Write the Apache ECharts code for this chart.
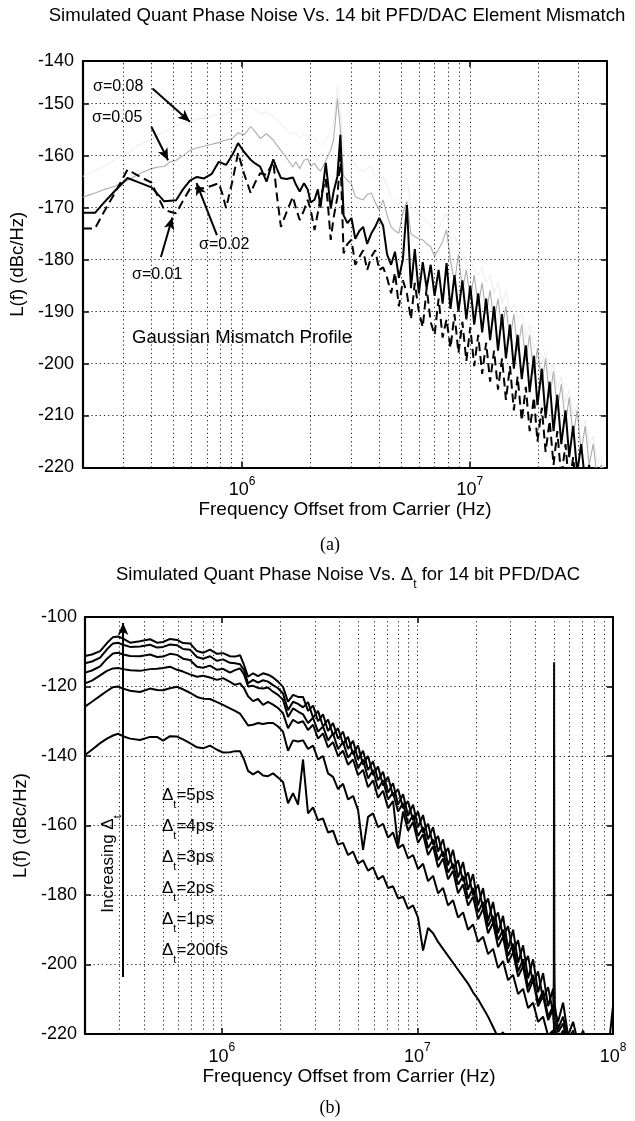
<!DOCTYPE html>
<html>
<head>
<meta charset="utf-8">
<script src="https://cdn.jsdelivr.net/npm/echarts@6/dist/echarts.min.js"></script>
<style>
html,body{margin:0;padding:0;background:#fff;}
#c{width:635px;height:1121px;}
</style>
</head>
<body>
<div id="c"></div>
<script>
// ---------------- DATA: chart (a) ----------------
const freqA = [
2.00e5,2.12e5,2.26e5,2.49e5,2.76e5,3.14e5,3.54e5,4.00e5,4.28e5,4.55e5,
4.83e5,5.13e5,5.50e5,5.90e5,6.33e5,6.80e5,7.36e5,7.90e5,8.21e5,8.50e5,
9.08e5,9.60e5,1.02e6,1.09e6,1.14e6,1.20e6,1.28e6,1.37e6,1.42e6,1.48e6,
1.57e6,1.67e6,1.72e6,1.79e6,1.87e6,1.94e6,2.00e6,2.08e6,2.15e6,2.21e6,
2.33e6,2.45e6,2.52e6,2.62e6,2.70e6,2.79e6,2.90e6,3.02e6,3.14e6,3.27e6,
3.40e6,3.54e6,3.69e6,3.84e6,4.00e6,4.16e6,4.33e6,4.51e6,4.69e6,4.88e6,
5.08e6,5.29e6,5.51e6,5.73e6,5.97e6,6.21e6,6.46e6,6.73e6,7.00e6,7.29e6,
7.59e6,7.90e6,8.22e6,8.56e6,8.91e6,9.27e6,9.65e6,1.004e7,1.045e7,1.088e7,
1.132e7,1.179e7,1.227e7,1.277e7,1.329e7,1.384e7,1.44e7,1.50e7,1.56e7,1.62e7,
1.69e7,1.76e7,1.83e7,1.91e7,1.98e7,2.07e7,2.15e7,2.24e7,2.33e7,2.42e7,
2.52e7,2.63e7,2.73e7,2.84e7,2.96e7,3.08e7,3.21e7,3.34e7,3.48e7,3.62e7,
3.77e7,3.92e7,4.00e7];

const sigma001 = [
-174,-174,-174,-170.6,-167.2,-162.7,-164.0,-165.2,-168.0,-170.4,
-170.8,-171.1,-168.7,-166.4,-166.3,-166.3,-165.8,-165.3,-167.5,-170.1,
-164.8,-159.5,-163.5,-167.2,-165.2,-163.4,-163.7,-161.1,-167.5,-173.7,
-170.8,-167.9,-170.0,-172.4,-170.5,-168.5,-170.4,-174.3,-171.0,-168.0,
-164.5,-176.2,-172.0,-168.0,-160.0,-178.8,-177.0,-176.2,-181.0,-179.5,
-178.2,-182.0,-179.5,-178.2,-182.0,-181.5,-183.5,-186.5,-182.5,-189.0,
-184.0,-186.5,-191.5,-184.5,-190.0,-193.0,-185.5,-192.0,-194.5,-187.5,
-195.0,-191.5,-197.0,-190.5,-198.0,-192.0,-199.5,-193.0,-200.5,-194.5,
-202.0,-196.0,-203.5,-197.5,-205.0,-199.0,-207.0,-200.5,-209.0,-202.5,
-211.0,-204.5,-213.0,-206.5,-215.0,-208.5,-217.0,-211.0,-219.5,-213.0,
-222.0,-215.5,-224.0,-218.0,-226.0,-221.0,-227,-224,-228,-226,
-229,-228,-229];

const sigma002 = [
-171,-171,-171,-168.9,-166.8,-164.3,-165.2,-166.1,-167.5,-168.8,
-168.7,-168.6,-166.5,-164.8,-164.1,-164.4,-163.5,-161.2,-161.5,-161.8,
-159.8,-157.6,-159.3,-160.8,-161.5,-162.1,-165.0,-160.7,-162.5,-164.3,
-164.5,-164.2,-165.5,-166.9,-165.3,-166.5,-169.0,-168.5,-166.5,-170.0,
-161.4,-170.2,-167.0,-164.0,-156.0,-171.5,-173.0,-172.0,-176.0,-174.5,
-173.7,-177.0,-175.0,-173.7,-172.0,-173.5,-179.0,-181.0,-178.5,-183.5,
-180.0,-169.5,-185.5,-178.0,-186.5,-180.5,-185.5,-181.0,-187.0,-182.0,
-188.5,-180.7,-189.5,-183.0,-190.0,-184.0,-191.5,-185.0,-192.5,-186.5,
-194.0,-187.5,-195.5,-189.0,-197.5,-190.5,-199.0,-192.5,-201.0,-194.5,
-203.0,-196.5,-205.5,-198.5,-208.0,-201.0,-210.5,-203.5,-213.0,-206.0,
-215.5,-209.0,-218.0,-212.0,-221.0,-215.5,-223.0,-219.5,-225.0,-223.0,
-226.0,-225.0,-226.0];

const sigma005 = [
-168.0,-167.6,-167.2,-166.5,-165.9,-164.8,-163.5,-162.5,-162.2,-162.1,
-161.2,-160.9,-160.0,-159.0,-158.5,-158.2,-157.8,-157.5,-157.2,-157.0,
-156.7,-155.6,-156.0,-154.4,-155.4,-156.7,-155.8,-157.0,-158.0,-159.0,
-160.5,-162.2,-161.2,-162.5,-160.9,-160.6,-162.0,-161.5,-162.5,-163.0,
-161.0,-158.9,-157.0,-149.0,-155.0,-164.0,-164.7,-165.5,-167.9,-168.3,
-168.5,-167.5,-167.2,-169.0,-170.4,-168.5,-171.5,-173.7,-174.5,-174.9,
-171.0,-168.8,-175.0,-175.6,-176.0,-176.2,-177.0,-177.5,-179.4,-178.0,
-176.5,-174.3,-180.1,-184.5,-179.0,-186.0,-182.0,-187.5,-183.0,-189.0,
-184.5,-190.5,-185.9,-192.0,-187.5,-193.5,-189.0,-195.5,-190.5,-197.5,
-192.5,-199.5,-194.5,-202.0,-197.0,-204.0,-199.0,-206.5,-201.5,-209.0,
-204.0,-211.5,-206.5,-214.0,-209.0,-217.0,-212.0,-219.5,-215.5,-222.0,
-219.5,-224.0,-223.0];

const sigma008 = [
-164,-163.5,-163,-162,-160.8,-159.5,-158,-156.8,-156,-155.5,
-154.8,-154.3,-153.8,-153.4,-153,-152.8,-152.5,-152,-152.3,-151.8,
-151.5,-151,-151.5,-150.5,-151,-152,-151.5,-152.5,-153,-154,
-155,-156,-155.5,-156.5,-155.8,-156,-157,-156.5,-157.5,-158,
-157,-155.5,-154,-146.5,-151,-159,-160,-160.5,-162,-162.5,
-163,-162.5,-162,-164,-165,-164,-166,-168,-169,-169.5,
-166.5,-164.5,-170,-170.5,-171.5,-172,-172.5,-173.5,-175,-174,
-172.5,-171,-176,-175.5,-177,-178.5,-180.5,-179.5,-182,-183,
-181.5,-184.5,-183,-186.5,-184.5,-188.5,-186,-190,-188.5,-191.5,
-190.5,-195,-192.5,-197,-195.5,-200,-197.5,-202.5,-200,-205,
-202.5,-207.5,-205,-210,-208,-212.5,-211,-215.5,-214,-219,
-218,-222,-222];

// y tick labels of (a); the printed frame top sits a little below the -140 tick line
const yTicksA = [-220,-210,-200,-190,-180,-170,-160,-150,-140];
const yTopA = -141.8;
const xGridA = [3e5,4e5,5e5,6e5,7e5,8e5,9e5,1e6,2e6,3e6,4e6,5e6,6e6,7e6,8e6,9e6,1e7,2e7,3e7];
const xRangeA = [2e5, 4e7];

// ---------------- DATA: chart (b) ----------------
const freqB = [
2.00e5,2.17e5,2.39e5,2.59e5,2.78e5,2.95e5,3.13e5,3.40e5,3.82e5,4.30e5,
4.67e5,5.01e5,5.44e5,5.91e5,6.34e5,6.88e5,7.47e5,8.02e5,8.71e5,9.46e5,
1.015e6,1.102e6,1.169e6,1.240e6,1.300e6,1.363e6,1.445e6,1.533e6,1.626e6,1.724e6,
1.829e6,1.940e6,2.057e6,2.182e6,2.314e6,2.455e6,
2.603e6,2.761e6,2.929e6,3.106e6,3.294e6,3.494e6,3.706e6,3.931e6,4.169e6,4.422e6,
4.690e6,4.974e6,5.276e6,5.596e6,5.935e6,6.295e6,6.677e6,7.082e6,7.511e6,7.967e6,
8.450e6,8.962e6,9.506e6,1.008e7,1.069e7,1.134e7,1.203e7,1.276e7,1.353e7,1.435e7,
1.522e7,1.614e7,1.712e7,1.816e7,1.926e7,2.043e7,2.167e7,2.298e7,2.438e7,2.585e7,
2.742e7,2.908e7,3.085e7,3.272e7,3.470e7,3.680e7,3.904e7,4.140e7,4.391e7,4.658e7,
4.940e7,
4.98e7,5.00e7,5.02e7,
5.239e7,5.557e7,5.894e7,6.251e7,6.630e7,7.032e7,7.459e7,7.911e7,8.391e7,8.900e7,9.440e7,1.0e8];

const dt5ps = [
-111.2,-110.8,-109.8,-107.5,-105.8,-105.6,-106.2,-107.4,-107.0,-106.4,
-107.4,-107.2,-106.3,-106.6,-107.5,-107.6,-109.8,-110.3,-109.4,-110.6,
-110.4,-111.3,-111.4,-111.0,-113.8,-117.2,-116.2,-117.0,-116.2,-116.6,
-117.4,-118.6,-120.1,-124.4,-122.4,-123.0,
-123.0,-127.0,-125.5,-130.0,-128.0,-132.8,-130.5,-135.0,-133.0,-138.0,
-135.6,-141.0,-138.5,-144.0,-141.5,-147.0,-144.5,-150.5,-147.8,-154.0,
-151.0,-157.2,-154.0,-160.5,-157.0,-164.0,-160.5,-167.5,-164.0,-171.5,
-167.0,-175.0,-170.5,-178.5,-174.0,-183.0,-178.0,-187.5,-182.0,-191.0,
-186.0,-195.5,-190.0,-199.5,-194.5,-204.0,-198.5,-208.0,-202.5,-212.0,
-207.0,
-213,-113,-213,
-216.5,-211.0,-220.5,-216.5,-222.5,-219.0,-224,-222,-226,-223,-225,-212];

const dt4ps = [
-113.3,-112.8,-111.7,-109.3,-107.6,-107.4,-108.0,-108.6,-108.5,-108.0,
-108.8,-108.6,-107.9,-108.1,-109.2,-109.4,-111.5,-112.0,-111.3,-112.6,
-112.2,-113.2,-113.3,-113.6,-115.2,-119.1,-118.1,-118.9,-118.2,-118.6,
-119.6,-120.5,-122.0,-126.8,-124.4,-125.0,
-126.0,-124.5,-129.0,-127.0,-131.5,-129.5,-134.0,-132.0,-136.5,-134.5,
-139.5,-137.0,-142.5,-140.0,-145.5,-143.0,-148.5,-146.0,-151.5,-149.5,
-155.0,-153.0,-158.5,-156.0,-162.0,-159.5,-165.5,-163.0,-169.0,-166.5,
-172.5,-170.0,-176.0,-173.5,-180.0,-177.0,-184.0,-181.0,-188.0,-185.0,
-192.0,-189.0,-196.5,-193.0,-201.0,-197.5,-205.5,-202.0,-210.0,-206.5,
-214.0,
-211,-200,-211,
-218.5,-215.0,-222.0,-219.0,-225,-222,-226,-224,-227,-225,-228,-226];

const dt3ps = [
-116.0,-115.4,-114.2,-112.0,-110.5,-110.3,-110.8,-111.2,-111.3,-110.8,
-111.5,-111.4,-110.6,-110.9,-112.0,-112.4,-114.3,-114.6,-114.0,-115.2,
-114.9,-116.0,-115.3,-114.8,-116.5,-120.0,-119.8,-120.4,-120.6,-120.3,
-121.5,-122.4,-123.8,-128.8,-126.3,-127.2,
-128.0,-130.5,-129.0,-133.0,-131.5,-135.5,-133.5,-138.0,-136.0,-140.5,
-138.5,-143.5,-141.0,-146.5,-144.0,-149.5,-147.0,-152.5,-150.5,-156.0,
-153.5,-159.5,-157.0,-163.0,-160.5,-166.5,-164.0,-170.0,-167.5,-173.5,
-171.0,-177.0,-174.5,-181.0,-178.0,-185.0,-182.0,-189.0,-186.0,-193.0,
-190.0,-197.5,-194.0,-202.0,-198.5,-206.5,-203.0,-211.0,-207.5,-215.0,
-212.0,
-216,-205,-216,
-219.5,-217.0,-223.5,-221,-226,-224,-228,-226,-229,-227,-230,-229];

const dt2ps = [
-119.1,-118.3,-116.8,-115.5,-114.8,-114.7,-115.0,-115.3,-115.5,-115.0,
-114.9,-114.7,-114.3,-115.2,-115.7,-116.5,-117.2,-116.9,-117.4,-118.1,
-117.6,-118.7,-119.5,-119.1,-120.5,-122.8,-124.2,-123.6,-125.3,-124.4,
-125.2,-126.2,-127.7,-132.0,-129.6,-130.5,
-130.0,-132.5,-131.0,-135.0,-133.5,-137.5,-136.0,-140.0,-138.5,-142.5,
-141.0,-145.5,-144.0,-149.0,-147.0,-152.0,-150.0,-155.0,-153.0,-166.0,
-156.0,-161.5,-159.0,-165.0,-162.5,-168.5,-166.0,-172.0,-169.5,-175.5,
-173.0,-179.5,-177.0,-183.0,-180.5,-187.0,-184.0,-191.0,-188.0,-195.0,
-192.0,-199.5,-196.5,-203.5,-200.5,-208.0,-204.5,-212.0,-209.0,-216.0,
-213.0,
-217,-208,-218,
-221.5,-219.0,-225,-223,-228,-226,-230,-228,-231,-229,-232,-231];

const dt1ps = [
-125.8,-124.4,-122.7,-121.3,-120.2,-120.0,-120.6,-121.2,-121.6,-120.6,
-121.0,-121.1,-120.5,-120.1,-120.8,-121.8,-123.0,-123.5,-123.6,-124.5,
-125.3,-126.3,-127.0,-127.8,-129.5,-131.2,-131.0,-130.5,-130.8,-130.5,
-130.5,-131.5,-133.0,-138.5,-135.5,-135.8,
-135.5,-138.0,-137.0,-141.0,-140.0,-145.0,-146.0,-149.5,-148.0,-152.5,
-151.5,-155.5,-167.0,-157.5,-156.5,-160.5,-159.5,-163.5,-162.0,-166.5,
-165.5,-169.5,-168.5,-172.5,-171.0,-176.0,-174.5,-179.5,-178.0,-183.0,
-181.5,-186.5,-185.0,-190.0,-188.5,-193.5,-192.0,-197.0,-195.5,-201.0,
-199.0,-204.5,-203.0,-208.5,-207.0,-212.5,-211.0,-216.5,-215.0,-220.5,
-219.0,
-223,-212,-223,
-225,-223,-227,-226,-229,-228,-231,-230,-232,-231,-233,-232];

const dt200fs = [
-139.7,-138.2,-136.3,-135.0,-134.1,-133.6,-134.3,-135.0,-135.4,-134.5,
-134.5,-135.6,-134.3,-134.4,-135.2,-136.3,-137.5,-137.8,-137.0,-138.2,
-139.0,-138.9,-138.6,-138.6,-141.0,-144.3,-145.3,-144.4,-145.6,-145.8,
-145.0,-146.2,-147.5,-153.6,-150.7,-154.0,
-141.0,-156.5,-154.8,-158.5,-158.0,-162.0,-161.5,-165.5,-165.0,-168.5,
-167.5,-171.0,-170.0,-173.0,-172.0,-175.5,-174.5,-178.0,-177.5,-181.0,
-180.5,-184.0,-183.0,-186.5,-196.0,-189.5,-191.0,-193.5,-195.5,-197.5,
-199.5,-201.5,-203.5,-205.5,-208.0,-210.0,-212.5,-215.0,-218.0,-221.0,
-219.5,-224,-223,-226,-225,-228,-227,-229,-228,-230,
-229,
-231,-222,-231,
-232,-231,-233,-232,-234,-233,-235,-234,-236,-235,-237,-236];

const yTicksB = [-220,-200,-180,-160,-140,-120,-100];
const xGridB = [3e5,4e5,5e5,6e5,7e5,8e5,9e5,1e6,2e6,3e6,4e6,5e6,6e6,7e6,8e6,9e6,1e7,2e7,3e7,4e7,5e7,6e7,7e7,8e7,9e7];
const xRangeB = [2e5, 1e8];

// ---------------- CHART ----------------
const FONT = '"Liberation Sans", Arial, Helvetica, sans-serif';
const SERIF = '"Liberation Serif", "Times New Roman", serif';
const chart = echarts.init(document.getElementById('c'), null, {renderer: 'canvas', width: 635, height: 1121});

function decadeLabel(v) {
  const l = Math.log10(v);
  const e = Math.round(l);
  if (Math.abs(l - e) > 1e-6) return '';
  return '{b|10}{s|' + e + '}';
}
const xLabelRich = {
  b: {fontSize: 18, fontFamily: FONT, color: '#000', lineHeight: 24, verticalAlign: 'bottom'},
  s: {fontSize: 12, fontFamily: FONT, color: '#000', lineHeight: 14, verticalAlign: 'top'}
};
const gridLineStyle = {color: '#222', width: 1, type: [1.2, 3]};

function makeXAxes(gi, range, nameGap) {
  return [
    {type: 'log', logBase: 10, gridIndex: gi, min: range[0], max: range[1], position: 'bottom',
     name: 'Frequency Offset from Carrier (Hz)', nameLocation: 'middle', nameGap: nameGap,
     nameTextStyle: {fontFamily: FONT, fontSize: 19, color: '#000'},
     axisLine: {show: true, onZero: false, lineStyle: {color: '#000', width: 2}},
     axisTick: {show: true, inside: true, length: 6, lineStyle: {color: '#000', width: 1.5}},
     axisLabel: {show: true, formatter: decadeLabel, rich: xLabelRich, margin: 8, hideOverlap: false},
     splitLine: {show: false}},
    {type: 'log', logBase: 10, gridIndex: gi, min: range[0], max: range[1], position: 'top',
     axisLine: {show: true, onZero: false, lineStyle: {color: '#000', width: 2}},
     axisTick: {show: true, inside: true, length: 6, lineStyle: {color: '#000', width: 1.5}},
     axisLabel: {show: false}, splitLine: {show: false}}
  ];
}
function makeYAxes(gi, ticks, top, nameGap, labelMargin) {
  const min = ticks[0], max = top, interval = ticks[1] - ticks[0];
  const lastTick = ticks[ticks.length - 1];
  return [
    {type: 'value', gridIndex: gi, min: min, max: max, interval: interval, position: 'left',
     name: 'L(f) (dBc/Hz)', nameLocation: 'middle', nameGap: nameGap, nameRotate: 90,
     nameTextStyle: {fontFamily: FONT, fontSize: 18.5, color: '#000'},
     axisLine: {show: true, onZero: false, lineStyle: {color: '#000', width: 2.2}},
     axisTick: {show: true, inside: true, length: 6, lineStyle: {color: '#000', width: 1.5}},
     axisLabel: {fontFamily: FONT, fontSize: 18, color: '#000', margin: labelMargin,
       formatter: v => (v > lastTick - interval / 2 ? String(lastTick) : String(v))},
     splitLine: {show: true, lineStyle: gridLineStyle}},
    {type: 'value', gridIndex: gi, min: min, max: max, interval: interval, position: 'right',
     axisLine: {show: true, onZero: false, lineStyle: {color: '#000', width: 2}},
     axisTick: {show: true, inside: true, length: 6, lineStyle: {color: '#000', width: 1.5}},
     axisLabel: {show: false}, splitLine: {show: false}}
  ];
}
function curve(name, xs, ys, xi, yi, color, width, type, z) {
  return {name: name, type: 'line', xAxisIndex: xi, yAxisIndex: yi,
    data: xs.map((f, i) => [f, ys[i]]), showSymbol: false, symbol: 'none', silent: true,
    clip: true, z: z, lineStyle: {color: color, width: width, type: type}};
}
function gridHelper(xi, yi, values) {
  return {type: 'line', xAxisIndex: xi, yAxisIndex: yi, data: [], silent: true, z: 1,
    markLine: {silent: true, symbol: ['none', 'none'], label: {show: false}, animation: false,
      lineStyle: gridLineStyle, emphasis: {disabled: true},
      data: values.map(v => ({xAxis: v}))}};
}
function arrowHelper(xi, yi, arrows) {
  return {type: 'line', xAxisIndex: xi, yAxisIndex: yi, data: [], silent: true, z: 6,
    markLine: {silent: true, symbol: ['none', 'arrow'], symbolSize: [8, 12], label: {show: false},
      animation: false, lineStyle: {color: '#000', width: 2, type: 'solid'}, emphasis: {disabled: true},
      data: arrows.map(a => [{coord: a[0]}, {coord: a[1]}])}};
}

// annotation arrows (data coordinates)
const arrowsA = [
  [[4.04e5, -147.1], [5.9e5, -153.5]],
  [[4.0e5, -154.5], [4.73e5, -160.9]],
  [[7.75e5, -175.3], [6.31e5, -165.3]],
  [[4.40e5, -179.5], [4.94e5, -171.9]]
];
const arrowsB = [
  [[3.13e5, -203.6], [3.13e5, -101.7]]
];

function txt(text, x, y, size, align) {
  return {type: 'text', x: x, y: y, z: 100, silent: true,
    style: {text: text, font: size + 'px ' + FONT, fill: '#000',
      align: align, textAlign: align, verticalAlign: 'middle', textVerticalAlign: 'middle'}};
}
function dtLabel(val, x, y) {
  return {type: 'text', x: x, y: y + 3, z: 100, silent: true,
    style: {text: '{d|Δ}{s|t}{d|=' + val + '}', fill: '#000', align: 'left', textAlign: 'left',
      verticalAlign: 'middle', textVerticalAlign: 'middle',
      rich: {d: {fontSize: 17, fontFamily: FONT, lineHeight: 18, verticalAlign: 'top', fill: '#000'},
             s: {fontSize: 11, fontFamily: FONT, lineHeight: 12, padding: [12, 0, 0, 0], verticalAlign: 'top', fill: '#000'}}}};
}

const option = {
  backgroundColor: '#fff',
  animation: false,
  grid: [
    {left: 78, right: 28, top: 61, height: 406.5, containLabel: false},
    {left: 85, right: 22, top: 617, height: 417, containLabel: false}
  ],
  xAxis: [].concat(makeXAxes(0, xRangeA, 30), makeXAxes(1, xRangeB, 28)),
  yAxis: [].concat(makeYAxes(0, yTicksA, yTopA, 50, 9), makeYAxes(1, yTicksB, yTicksB[yTicksB.length - 1], 52, 8)),
  series: [
    gridHelper(0, 0, xGridA),
    gridHelper(2, 2, xGridB),
    curve('σ=0.08', freqA, sigma008, 0, 0, '#ececec', 1, 'solid', 2),
    curve('σ=0.05', freqA, sigma005, 0, 0, '#acacac', 1.1, 'solid', 3),
    curve('σ=0.01', freqA, sigma001, 0, 0, '#000', 2, [9, 5], 4),
    curve('σ=0.02', freqA, sigma002, 0, 0, '#000', 2, 'solid', 5),
    curve('Δt=5ps', freqB, dt5ps, 2, 2, '#000', 2, 'solid', 4),
    curve('Δt=4ps', freqB, dt4ps, 2, 2, '#000', 2, 'solid', 4),
    curve('Δt=3ps', freqB, dt3ps, 2, 2, '#000', 2, 'solid', 4),
    curve('Δt=2ps', freqB, dt2ps, 2, 2, '#000', 2, 'solid', 4),
    curve('Δt=1ps', freqB, dt1ps, 2, 2, '#000', 2, 'solid', 4),
    curve('Δt=200fs', freqB, dt200fs, 2, 2, '#000', 2, 'solid', 4),
    arrowHelper(0, 0, arrowsA),
    arrowHelper(2, 2, arrowsB)
  ],
  graphic: {elements: [
    txt('Simulated Quant Phase Noise Vs. 14 bit PFD/DAC Element Mismatch', 337, 16, 18.6, 'center'),
    {type: 'text', x: 348, y: 575.5, z: 100, silent: true,
     style: {text: '{m|Simulated Quant Phase Noise Vs. Δ}{s|t}{m| for 14 bit PFD/DAC}', fill: '#000',
       align: 'center', textAlign: 'center', verticalAlign: 'middle', textVerticalAlign: 'middle',
       rich: {m: {fontSize: 18.5, fontFamily: FONT, lineHeight: 20, verticalAlign: 'top', fill: '#000'},
              s: {fontSize: 12, fontFamily: FONT, lineHeight: 12, padding: [13, 0, 0, 0], verticalAlign: 'top', fill: '#000'}}}},
    txt('σ=0.08', 93, 87, 16, 'left'),
    txt('σ=0.05', 92, 118, 16, 'left'),
    txt('σ=0.02', 199, 245, 16, 'left'),
    txt('σ=0.01', 132, 275, 16, 'left'),
    txt('Gaussian Mismatch Profile', 132, 338, 18.5, 'left'),
    {type: 'text', x: 330, y: 545, z: 100, silent: true,
     style: {text: '(a)', font: '18px ' + SERIF, fill: '#000', align: 'center', textAlign: 'center', verticalAlign: 'middle', textVerticalAlign: 'middle'}},
    {type: 'text', x: 330, y: 1108, z: 100, silent: true,
     style: {text: '(b)', font: '18px ' + SERIF, fill: '#000', align: 'center', textAlign: 'center', verticalAlign: 'middle', textVerticalAlign: 'middle'}},
    dtLabel('5ps', 162, 793),
    dtLabel('4ps', 162, 824),
    dtLabel('3ps', 162, 855),
    dtLabel('2ps', 162, 886),
    dtLabel('1ps', 162, 917),
    dtLabel('200fs', 162, 948),
    {type: 'text', x: 109, y: 864, rotation: Math.PI / 2, z: 100, silent: true,
     style: {text: '{d|Increasing Δ}{s|t}', fill: '#000', align: 'center', textAlign: 'center',
       verticalAlign: 'middle', textVerticalAlign: 'middle',
       rich: {d: {fontSize: 17, fontFamily: FONT, lineHeight: 18, verticalAlign: 'top', fill: '#000'},
              s: {fontSize: 11, fontFamily: FONT, lineHeight: 12, padding: [12, 0, 0, 0], verticalAlign: 'top', fill: '#000'}}}}
  ]}
};
chart.setOption(option);
</script>
</body>
</html>
